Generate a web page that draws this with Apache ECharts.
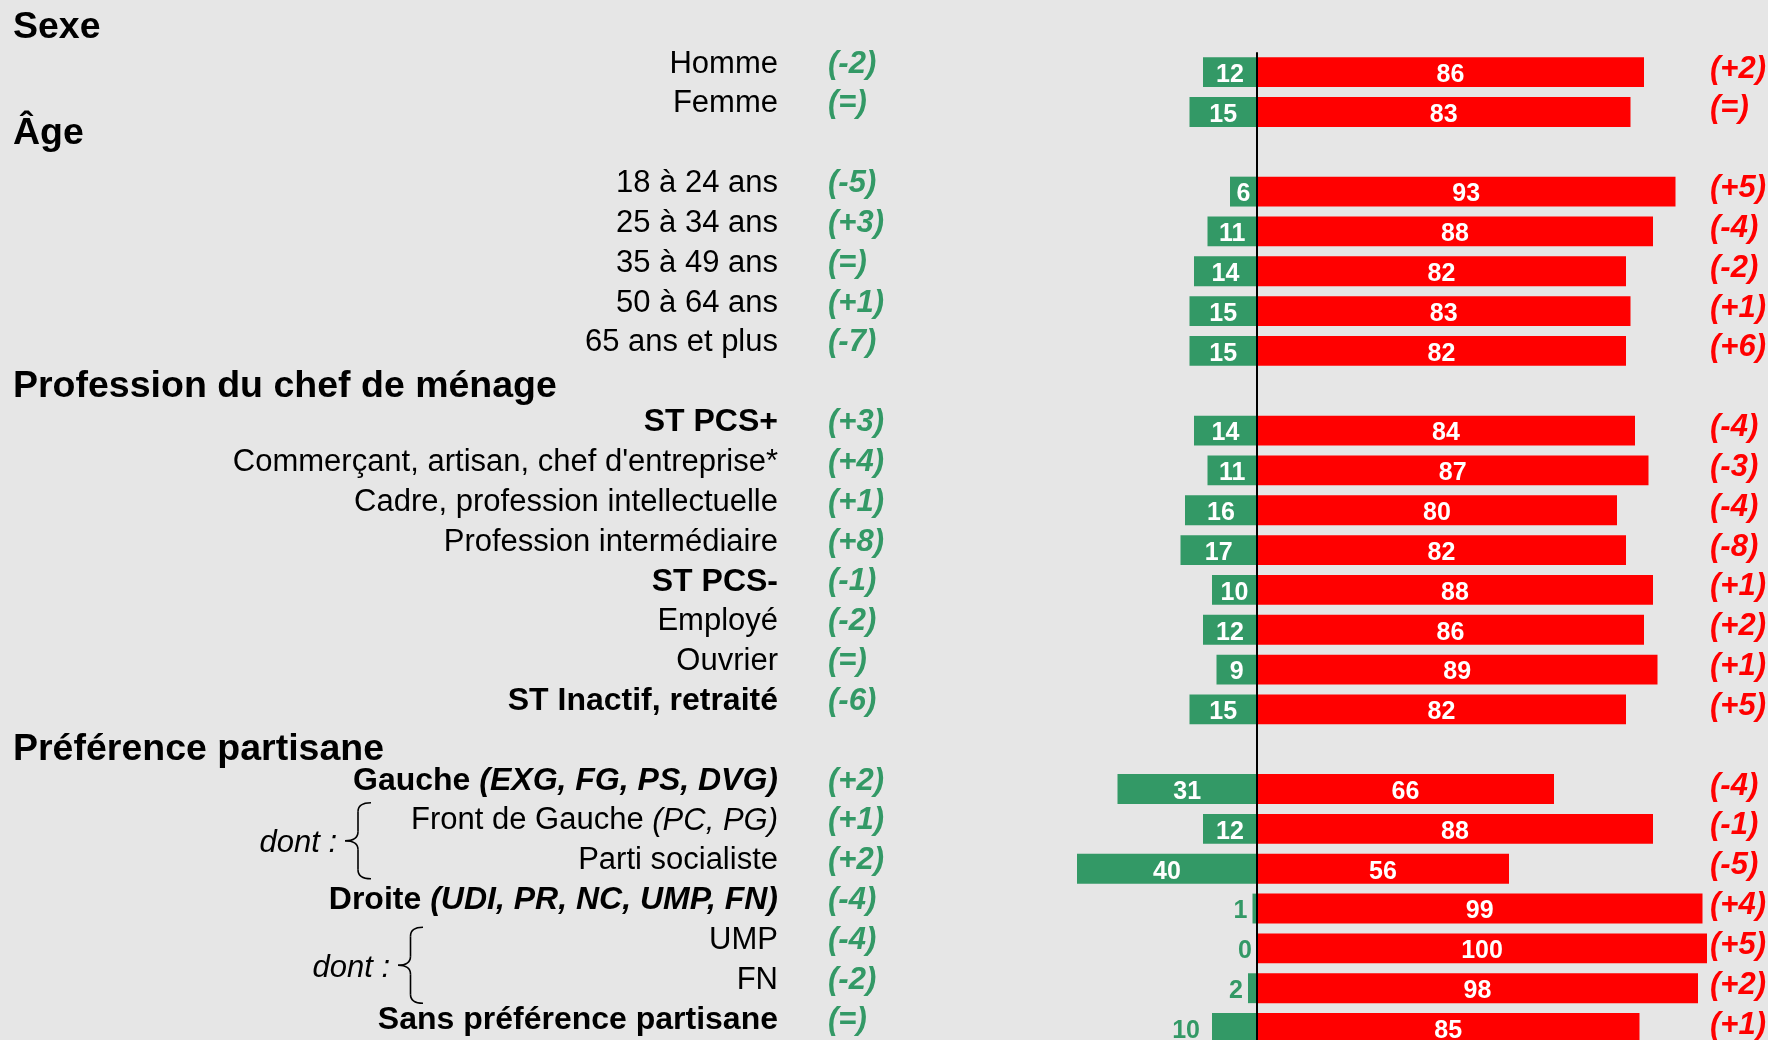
<!DOCTYPE html>
<html>
<head>
<meta charset="utf-8">
<script src="https://cdn.jsdelivr.net/npm/echarts@6/dist/echarts.min.js"></script>
<style>
html,body{margin:0;padding:0;background:#E6E6E6;}
#chart{width:1768px;height:1040px;}
</style>
</head>
<body>
<div id="chart"></div>
<script>
// ---------- DATA ----------
const categories = [
  'Homme', 'Femme', ' ',
  '18 à 24 ans', '25 à 34 ans', '35 à 49 ans', '50 à 64 ans', '65 ans et plus', '  ',
  'ST PCS+', "Commerçant, artisan, chef d'entreprise*", 'Cadre, profession intellectuelle',
  'Profession intermédiaire', 'ST PCS-', 'Employé', 'Ouvrier', 'ST Inactif, retraité', '   ',
  'Gauche (EXG, FG, PS, DVG)', 'Front de Gauche (PC, PG)', 'Parti socialiste',
  'Droite (UDI, PR, NC, UMP, FN)', 'UMP', 'FN', 'Sans préférence partisane'
];
const boldCategories = ['ST PCS+', 'ST PCS-', 'ST Inactif, retraité',
  'Gauche (EXG, FG, PS, DVG)', 'Droite (UDI, PR, NC, UMP, FN)', 'Sans préférence partisane'];
const greenValues = [12, 15, null, 6, 11, 14, 15, 15, null, 14, 11, 16, 17, 10, 12, 9, 15, null, 31, 12, 40, 1, 0, 2, 10];
const redValues   = [86, 83, null, 93, 88, 82, 83, 82, null, 84, 87, 80, 82, 88, 86, 89, 82, null, 66, 88, 56, 99, 100, 98, 85];
const greenChange = [-2, 0, null, -5, 3, 0, 1, -7, null, 3, 4, 1, 8, -1, -2, 0, -6, null, 2, 1, 2, -4, -4, -2, 0];
const redChange   = [2, 0, null, 5, -4, -2, 1, 6, null, -4, -3, -4, -8, 1, 2, 1, 5, null, -4, -1, -5, 4, 5, 2, 1];
const headerLabels = ['Sexe', 'Âge', 'Profession du chef de ménage', 'Préférence partisane'];
const dontLabel = 'dont :';
// green labels drawn outside the bar (left), in green
const outsideGreenLabelRows = ['Droite (UDI, PR, NC, UMP, FN)', 'UMP', 'FN', 'Sans préférence partisane'];

// ---------- LAYOUT ----------
const GREEN = '#339966', RED = '#FF0000';
const FONT = "'Liberation Sans', Arial, Helvetica, sans-serif";
const gridTop = 52.2, rowPitch = 39.83, zeroX = 1257, pxPerUnit = 4.5, xMin = -60, xMax = 100;
const gridLeft = zeroX + xMin * pxPerUnit;
const gridWidth = (xMax - xMin) * pxPerUnit;
const rowY = i => gridTop + rowPitch * (i + 0.5);
const headerRows = [[-1, -5], [2, -18], [8, -4.5], [17, 0.5]];   // [row, dy]
const catRight = 778, greenChangeLeft = 828, redChangeLeft = 1710;
// [first row, text right x, brace left x, brace right x, vertical shift]
const braceRows = [[19, 337, 345, 371, -8], [22, 390, 398, 423, -3]];

function fmtChange(v, style) {
  if (v === null || v === undefined) return '';
  const t = v === 0 ? '(=)' : (v > 0 ? '(+' + v + ')' : '(' + v + ')');
  return '{' + style + '|' + t + '}';
}
function fmtCategory(value, idx) {
  const name = categories[idx];
  if (!name || !name.trim()) return '';
  const bold = boldCategories.indexOf(name) >= 0;
  const m = name.match(/^(.*?)\s*(\(.*\))$/);
  if (m) return '{' + (bold ? 'b' : 'r') + '|' + m[1] + ' }{' + (bold ? 'bi' : 'i') + '|' + m[2] + '}';
  return '{' + (bold ? 'b' : 'r') + '|' + name + '}';
}

const greenData = greenValues.map((v, i) => {
  if (v === null) return null;
  const outside = outsideGreenLabelRows.indexOf(categories[i]) >= 0;
  const d = { value: -v };
  if (outside) d.label = { position: 'left', distance: v >= 10 ? 12 : 5, color: GREEN };
  return d;
});

// curly brace built from quadratic curves and lines
function braceElements(xl, xr, yTop, yBot) {
  const xm = (xl + xr) / 2, ym = (yTop + yBot) / 2, r = 9;
  const st = { stroke: '#000', lineWidth: 1.6, fill: null };
  return [
    { type: 'bezierCurve', shape: { x1: xr, y1: yTop, cpx1: xm, cpy1: yTop, x2: xm, y2: yTop + r }, style: st },
    { type: 'line', shape: { x1: xm, y1: yTop + r, x2: xm, y2: ym - r }, style: st },
    { type: 'bezierCurve', shape: { x1: xm, y1: ym - r, cpx1: xm, cpy1: ym, x2: xl, y2: ym }, style: st },
    { type: 'bezierCurve', shape: { x1: xl, y1: ym, cpx1: xm, cpy1: ym, x2: xm, y2: ym + r }, style: st },
    { type: 'line', shape: { x1: xm, y1: ym + r, x2: xm, y2: yBot - r }, style: st },
    { type: 'bezierCurve', shape: { x1: xm, y1: yBot - r, cpx1: xm, cpy1: yBot, x2: xr, y2: yBot }, style: st }
  ];
}

const graphics = headerLabels.map((t, k) => ({
  type: 'text', x: 13, y: rowY(headerRows[k][0]) + headerRows[k][1],
  style: { text: t, fontSize: 37.5, fontWeight: 'bold', fontFamily: FONT, fill: '#000', verticalAlign: 'middle', align: 'left' }
}));
braceRows.forEach(([r, tx, bl, br, dy]) => {
  const mid = (rowY(r) + rowY(r + 1)) / 2 + dy;
  graphics.push({
    type: 'text', x: tx, y: mid + 3,
    style: { text: dontLabel, fontSize: 31, fontStyle: 'italic', fontFamily: FONT, fill: '#000', verticalAlign: 'middle', align: 'right' }
  });
  braceElements(bl, br, mid - 38, mid + 38).forEach(e => graphics.push(e));
});

const chart = echarts.init(document.getElementById('chart'), null, { renderer: 'canvas' });
const baseY = {
  type: 'category', data: categories, inverse: true,
  axisLine: { show: false }, axisTick: { show: false }, splitLine: { show: false }
};
chart.setOption({
  backgroundColor: '#E6E6E6',
  animation: false,
  grid: { left: gridLeft, top: gridTop, width: gridWidth, height: rowPitch * categories.length, containLabel: false, outerBoundsMode: 'none' },
  xAxis: { type: 'value', min: xMin, max: xMax, show: false, splitLine: { show: false } },
  yAxis: [
    Object.assign({}, baseY, {
      position: 'left',
      axisLabel: {
        interval: 0, hideOverlap: false, margin: gridLeft - catRight, align: 'right',
        formatter: fmtCategory, padding: [0, 0, 16, 0],
        rich: {
          r: { fontSize: 31, fontFamily: FONT, color: '#000' },
          b: { fontSize: 32, fontFamily: FONT, color: '#000', fontWeight: 'bold' },
          i: { fontSize: 31, fontFamily: FONT, color: '#000', fontStyle: 'italic' },
          bi: { fontSize: 32, fontFamily: FONT, color: '#000', fontWeight: 'bold', fontStyle: 'italic' }
        }
      }
    }),
    Object.assign({}, baseY, {
      position: 'left',
      axisLabel: {
        interval: 0, hideOverlap: false, margin: gridLeft - greenChangeLeft, align: 'left',
        formatter: (v, i) => fmtChange(greenChange[i], 'g'), padding: [0, 0, 16, 0],
        rich: { g: { fontSize: 31, fontFamily: FONT, fontWeight: 'bold', fontStyle: 'italic', color: GREEN } }
      }
    }),
    Object.assign({}, baseY, {
      position: 'right',
      axisLabel: {
        interval: 0, hideOverlap: false, margin: redChangeLeft - (gridLeft + gridWidth), align: 'left',
        formatter: (v, i) => fmtChange(redChange[i], 'rd'), padding: [0, 0, 6, 0],
        rich: { rd: { fontSize: 31, fontFamily: FONT, fontWeight: 'bold', fontStyle: 'italic', color: RED } }
      }
    })
  ],
  series: [
    {
      name: 'vert', type: 'bar', yAxisIndex: 0, data: greenData,
      barGap: '-100%', barCategoryGap: '25%',
      itemStyle: { color: GREEN },
      label: {
        show: true, position: 'inside', color: '#fff', fontSize: 25, fontWeight: 'bold', fontFamily: FONT,
        offset: [0, 3],
        formatter: p => String(greenValues[p.dataIndex])
      }
    },
    {
      name: 'rouge', type: 'bar', yAxisIndex: 0, data: redValues,
      barGap: '-100%', barCategoryGap: '25%',
      itemStyle: { color: RED },
      label: {
        show: true, position: 'inside', color: '#fff', fontSize: 25, fontWeight: 'bold', fontFamily: FONT,
        offset: [0, 3]
      },
      markLine: {
        silent: true, symbol: ['none', 'none'], animation: false,
        label: { show: false },
        lineStyle: { color: '#000', width: 2, type: 'solid' },
        data: [{ xAxis: 0 }]
      }
    }
  ],
  graphic: graphics
});
</script>
</body>
</html>
